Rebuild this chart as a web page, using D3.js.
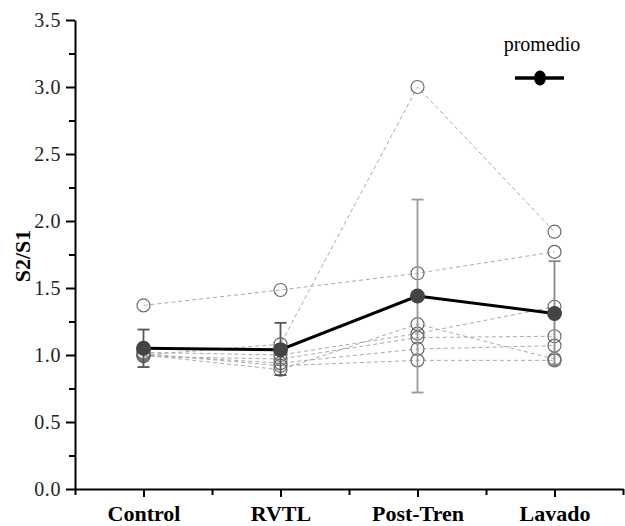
<!DOCTYPE html>
<html>
<head>
<meta charset="utf-8">
<script src="https://cdn.jsdelivr.net/npm/d3@7"></script>
<style>
  body { margin: 0; background: #fff; }
  svg text { font-family: "Liberation Serif", "Times New Roman", serif; }
</style>
</head>
<body>
<svg id="chart" width="625" height="526"></svg>
<script>
// categories and values
const categories = ["Control", "RVTL", "Post-Tren", "Lavado"];
const sA = [1.37, 1.485, 1.61, 1.77];
const sB = [1.00, 1.08, 3.00, 1.92];
const sC = [1.00, 0.89, 1.23, 0.97];
const sD = [1.02, 1.00, 1.16, 1.36];
const sE = [0.99, 0.97, 1.13, 1.14];
const sF = [1.00, 0.94, 1.045, 1.07];
const sG = [1.01, 0.92, 0.96, 0.96];
const subjects = [sA, sB, sC, sD, sE, sF, sG];
const meanVals = [1.05, 1.04, 1.44, 1.31];
const errLow = [0.91, 0.85, 0.72, 0.93];
const errHigh = [1.19, 1.24, 2.16, 1.70];
const yTicks = [0, 0.5, 1, 1.5, 2, 2.5, 3, 3.5];
const yMinor = [0.25, 0.75, 1.25, 1.75, 2.25, 2.75, 3.25];

const svg = d3.select("#chart");
const x = d3.scaleLinear().domain([0.5, 4.5]).range([75, 623]);
const y = d3.scaleLinear().domain([0, 3.5]).range([489, 20]);
const pos = i => x(i + 1);

// individual subjects
const line = d3.line().x((d, i) => pos(i)).y(d => y(d));
svg.selectAll("path.subj").data(subjects).enter().append("path")
    .attr("class", "subj").attr("d", line)
    .attr("fill", "none").attr("stroke", "#aaa")
    .attr("stroke-width", 1).attr("stroke-dasharray", "4,3");

subjects.forEach(s => {
    svg.selectAll(null).data(s).enter().append("circle")
        .attr("cx", (d, i) => pos(i)).attr("cy", d => y(d)).attr("r", 6.5)
        .attr("fill", "none").attr("stroke", "#6a6a6a").attr("stroke-width", 1.2);
});

// error bars
const errCol = ["#555", "#555", "#999", "#888"];
const eb = svg.selectAll("g.eb").data(meanVals).enter().append("g").attr("class", "eb")
    .attr("stroke", (d, i) => errCol[i]).attr("stroke-width", 1.8);
eb.append("line").attr("x1", (d, i) => pos(i)).attr("x2", (d, i) => pos(i))
    .attr("y1", (d, i) => y(errLow[i])).attr("y2", (d, i) => y(errHigh[i]));
eb.append("line").attr("x1", (d, i) => pos(i) - 6).attr("x2", (d, i) => pos(i) + 6)
    .attr("y1", (d, i) => y(errHigh[i])).attr("y2", (d, i) => y(errHigh[i]));
eb.append("line").attr("x1", (d, i) => pos(i) - 6).attr("x2", (d, i) => pos(i) + 6)
    .attr("y1", (d, i) => y(errLow[i])).attr("y2", (d, i) => y(errLow[i]));

// promedio
svg.append("path").datum(meanVals).attr("d", line)
    .attr("fill", "none").attr("stroke", "#000").attr("stroke-width", 3);
svg.selectAll("circle.mean").data(meanVals).enter().append("circle")
    .attr("class", "mean").attr("cx", (d, i) => pos(i)).attr("cy", d => y(d))
    .attr("r", 7.5).attr("fill", "#444");

// axes
const yAxis = svg.append("g").attr("transform", "translate(75,0)")
    .call(d3.axisLeft(y).tickValues(yTicks).tickFormat(d3.format(".1f")).tickSize(9).tickSizeOuter(0));
svg.append("g").attr("transform", "translate(75,0)")
    .call(d3.axisLeft(y).tickValues(yMinor).tickFormat("").tickSize(6).tickSizeOuter(0))
    .select(".domain").remove();
yAxis.selectAll("text").attr("font-size", 20).attr("fill", "#222").attr("letter-spacing", 0.6)
    .attr("font-family", "Liberation Serif, serif").attr("x", -14).attr("dy", "0.34em");

const xAxis = svg.append("g").attr("transform", "translate(0,489)")
    .call(d3.axisBottom(x).tickValues([1, 2, 3, 4]).tickFormat((d) => categories[d - 1]).tickSize(8).tickSizeOuter(0));
svg.append("g").attr("transform", "translate(0,489)")
    .call(d3.axisBottom(x).tickValues([0.5, 1.5, 2.5, 3.5, 4.5]).tickFormat("").tickSize(6).tickSizeOuter(0))
    .select(".domain").remove();
xAxis.selectAll("text").attr("font-size", 22).attr("font-weight", "bold").attr("fill", "#000")
    .attr("font-family", "Liberation Serif, serif").attr("y", 16).attr("dy", "0.71em");

svg.selectAll(".domain").attr("stroke", "#000").attr("stroke-width", 2);
svg.selectAll(".tick line").attr("stroke", "#000").attr("stroke-width", 2);

svg.append("text").attr("transform", "translate(30,256) rotate(-90)")
    .attr("text-anchor", "middle").attr("font-size", 22).attr("font-weight", "bold")
    .text("S2/S1");

// legend
svg.append("text").attr("x", 542).attr("y", 51).attr("text-anchor", "middle")
    .attr("font-size", 20).text("promedio");
svg.append("line").attr("x1", 515).attr("x2", 564).attr("y1", 78).attr("y2", 78)
    .attr("stroke", "#000").attr("stroke-width", 3.5);
svg.append("ellipse").attr("cx", 540).attr("cy", 78).attr("rx", 6).attr("ry", 7.5).attr("fill", "#000");
</script>
</body>
</html>
